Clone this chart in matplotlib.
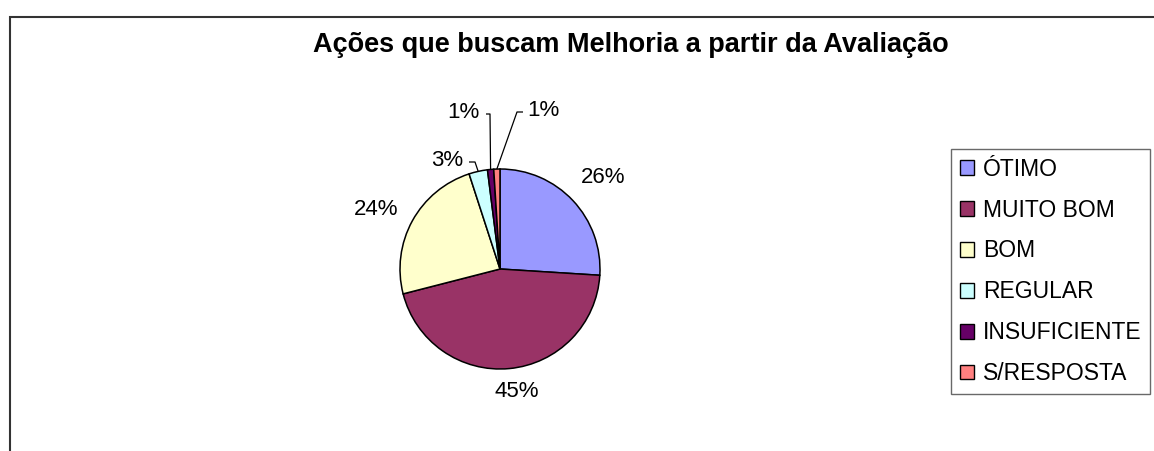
import numpy as np
import matplotlib
matplotlib.use("Agg")
import matplotlib.pyplot as plt
from matplotlib.patches import Rectangle, Patch

plt.rcParams['font.family'] = ['Liberation Sans', 'DejaVu Sans']

# ---- data ----
title = "Ações que buscam Melhoria a partir da Avaliação"
categories = ["ÓTIMO", "MUITO BOM", "BOM", "REGULAR", "INSUFICIENTE", "S/RESPOSTA"]
values = [26, 45, 24, 3, 1, 1]
colors = ["#9999FF", "#993366", "#FFFFCC", "#CCFFFF", "#660066", "#FF8080"]

W, H, DPI = 1154, 451, 100
R_PX = 100.0            # pie radius in pixels
CX, CY = 500, 269       # pie centre in pixels (from top-left)

fig = plt.figure(figsize=(W / DPI, H / DPI), dpi=DPI)
fig.patch.set_facecolor("white")

# outer chart border (only left/top visible, rest cropped)
fig.add_artist(Rectangle((9.5 / W, -0.2), 1.3, (H - 16.5) / H + 0.2,
                         transform=fig.transFigure, fill=False,
                         edgecolor="#333333", linewidth=1.5))

ax = fig.add_axes([0, 0, 1, 1])
wedges, _ = ax.pie(values, colors=colors, startangle=90, counterclock=False,
                   radius=1.0, center=(0, 0), frame=True,
                   wedgeprops=dict(edgecolor="black", linewidth=1.1))
ax.set_xlim(-CX / R_PX, (W - CX) / R_PX)
ax.set_ylim(-(H - CY) / R_PX, CY / R_PX)
ax.set_aspect("equal")
ax.axis("off")

total = float(sum(values))
cum = np.cumsum([0] + values[:-1])
mid_frac = (cum + np.array(values) / 2.0) / total
mid_ang = np.deg2rad(mid_frac * 360.0)   # clockwise from top

label_fs = 16
# large slices: radius factor and small angular nudge (deg)
big_layout = {0: (1.38, 1.4), 1: (1.24, -2.5), 2: (1.37, -3.2)}
for i, (r, nud) in big_layout.items():
    a = mid_ang[i] + np.deg2rad(nud)
    ax.text(r * np.sin(a), r * np.cos(a), f"{values[i]}%", fontsize=label_fs,
            ha="center", va="center")

# small slices: label positions (in radii) and leader knee
small_layout = {
    3: dict(text=(-0.53, 1.08), knee=(-0.25, 1.07), start=(-0.31, 1.07)),
    4: dict(text=(-0.37, 1.57), knee=(-0.10, 1.55), start=(-0.14, 1.55)),
    5: dict(text=(0.43, 1.58), knee=(0.17, 1.57), start=(0.23, 1.57)),
}
for i, d in small_layout.items():
    a = mid_ang[i]
    ex, ey = np.sin(a), np.cos(a)
    ax.text(d["text"][0], d["text"][1], f"{values[i]}%", fontsize=label_fs,
            ha="center", va="center")
    ax.plot([d["start"][0], d["knee"][0], ex], [d["start"][1], d["knee"][1], ey],
            color="black", linewidth=0.9, solid_capstyle="butt")

ax.text((631 - CX) / R_PX, (CY - 45) / R_PX, title, fontsize=19.5,
        fontweight="bold", ha="center", va="center")

handles = [Patch(facecolor=c, edgecolor="black", linewidth=1.0) for c in colors]
leg = fig.legend(handles, categories, loc="upper left",
                 bbox_to_anchor=(951 / W, 1 - 149 / H), borderaxespad=0,
                 fontsize=16.5, frameon=True, fancybox=False,
                 handlelength=0.62, handleheight=0.62, handletextpad=0.4,
                 labelspacing=0.78, borderpad=0.38)
leg.get_frame().set_edgecolor("#444444")
leg.get_frame().set_linewidth(1.0)

fig.savefig("out.png", dpi=DPI)
